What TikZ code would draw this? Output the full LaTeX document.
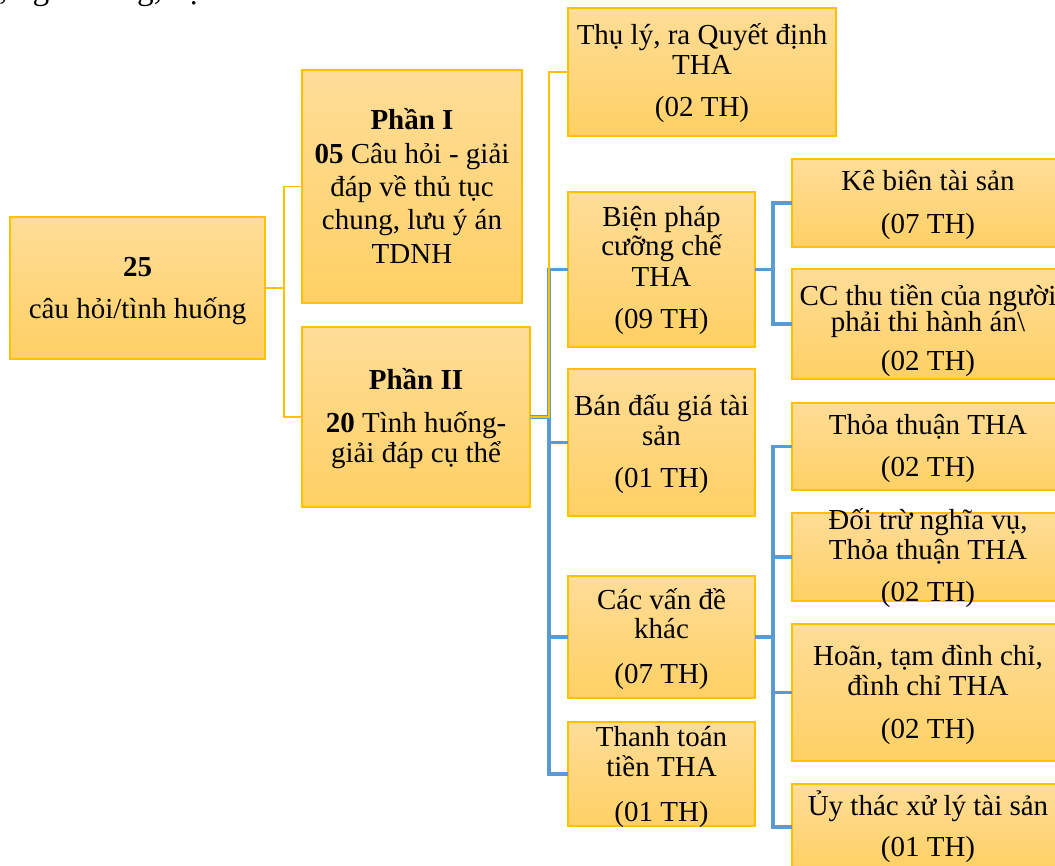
\documentclass[tikz,border=0pt]{standalone}
\usepackage{fontspec}
\setmainfont{Liberation Serif}
\usetikzlibrary{calc}

\definecolor{boxedge}{HTML}{FFC000}
\definecolor{boxtop}{HTML}{FFDD98}
\definecolor{boxbot}{HTML}{FFD064}
\definecolor{linkblue}{HTML}{5B9BD5}
\definecolor{linkgold}{HTML}{FFC000}

% box from corner (x1,y1) to corner (x2,y2), in pixel units
\newcommand\bx[5]{%
  \pgfmathsetmacro\bw{(#4-#2)*0.75}%
  \pgfmathsetmacro\bh{(#5-#3)*0.75}%
  \node[box, minimum width=\bw pt, minimum height=\bh pt] (#1) at ({(#2+#4)/2},{(#3+#5)/2}) {};}
% one line of text: name, box it belongs to, baseline y, text
\newcommand\tline[4]{%
  \node[txt] (#1) at ($(#2.center |- 0,#3)$) {#4};}

\begin{document}
\begin{tikzpicture}[x=0.75pt, y=-0.75pt,
  box/.style={rectangle, draw=boxedge, line width=1.1pt, top color=boxtop,
    bottom color=boxbot, inner sep=0pt, outer sep=0pt},
  txt/.style={anchor=base, inner sep=0pt, font=\fontsize{21.75pt}{26pt}\selectfont},
  yl/.style={draw=linkgold, line width=1pt, line join=miter},
  bl/.style={draw=linkblue, line width=2.3pt, line join=miter}]
\useasboundingbox (0,0) rectangle (1055,865);

% running text above the chart
\node[anchor=base west, inner sep=0pt, font=\fontsize{25pt}{30pt}\selectfont]
  (lead) at (-1,-1) {, ngân hàng, cụ thể};

% boxes
\bx{b0}{10}{217}{265}{359}
\bx{p1}{302}{70}{522}{303}
\bx{p2}{302}{327}{530}{507}
\bx{thuly}{568}{8}{836}{136}
\bx{bp}{568}{192}{755}{347}
\bx{bdg}{568}{369}{755}{516}
\bx{cvd}{568}{576}{755}{698}
\bx{tt}{568}{722}{755}{826}
\bx{kb}{792}{159}{1064}{247}
\bx{cc}{792}{269}{1064}{379}
\bx{ttt}{792}{403}{1064}{490}
\bx{dt}{792}{513}{1064}{601}
\bx{h}{792}{624}{1064}{761}
\bx{ut}{792}{784}{1064}{870}

% connectors from the root and from Phần II
\coordinate (j0) at ($(b0.east)+(19,0)$);
\coordinate (j1) at ($(p2.east)+(19,0)$);
\coordinate (j2) at ($(bp.east)+(18,0)$);
\coordinate (j3) at ($(cvd.east)+(18,0)$);

\draw[yl] (b0.east) -- (j0) |- (p1.west);
\draw[yl] (j0) |- (p2.west);

\draw[bl] (p2.east) -- (j1);
\draw[bl] (bp.west) -| (j1) |- (tt.west);
\draw[bl] (bdg.west) -| (j1);
\draw[bl] (cvd.west) -| (j1);
\draw[yl] (p2.east) -- (j1) |- (thuly.west);

\draw[bl] (bp.east) -- (j2);
\draw[bl] (kb.west) -| (j2) |- (cc.west);

\draw[bl] (cvd.east) -- (j3);
\draw[bl] (ttt.west) -| (j3) |- (ut.west);
\draw[bl] (dt.west) -| (j3);
\draw[bl] (h.west) -| (j3);

% texts
\tline{b0a}{b0}{276}{\textbf{25}}
\tline{b0b}{b0}{318}{câu hỏi/tình huống}

\tline{p1a}{p1}{129}{\textbf{Phần I}}
\tline{p1b}{p1}{163}{\textbf{05} Câu hỏi - giải}
\tline{p1c}{p1}{196}{đáp về thủ tục}
\tline{p1d}{p1}{229}{chung, lưu ý án}
\tline{p1e}{p1}{263}{TDNH}

\tline{p2a}{p2}{389}{\textbf{Phần II}}
\tline{p2b}{p2}{432}{\textbf{20} Tình huống-}
\tline{p2c}{p2}{462}{giải đáp cụ thể}

\tline{thuly-a}{thuly}{44}{Thụ lý, ra Quyết định}
\tline{thuly-b}{thuly}{74}{THA}
\tline{thuly-c}{thuly}{116}{(02 TH)}

\tline{bp-a}{bp}{226.5}{Biện pháp}
\tline{bp-b}{bp}{255}{cưỡng chế}
\tline{bp-c}{bp}{286}{THA}
\tline{bp-d}{bp}{328}{(09 TH)}

\tline{bdg-a}{bdg}{415}{Bán đấu giá tài}
\tline{bdg-b}{bdg}{445}{sản}
\tline{bdg-c}{bdg}{487.5}{(01 TH)}

\tline{cvd-a}{cvd}{609}{Các vấn đề}
\tline{cvd-b}{cvd}{638}{khác}
\tline{cvd-c}{cvd}{683}{(07 TH)}

\tline{tt-a}{tt}{746.5}{Thanh toán}
\tline{tt-b}{tt}{776}{tiền THA}
\tline{tt-c}{tt}{821}{(01 TH)}

\tline{kb-a}{kb}{190.5}{Kê biên tài sản}
\tline{kb-b}{kb}{233}{(07 TH)}

\tline{cc-a}{cc}{305}{CC thu tiền của người}
\tline{cc-b}{cc}{331.5}{phải thi hành án\textbackslash}
\tline{cc-c}{cc}{370}{(02 TH)}

\tline{ttt-a}{ttt}{434}{Thỏa thuận THA}
\tline{ttt-b}{ttt}{476.5}{(02 TH)}

\tline{dt-a}{dt}{529}{Đối trừ nghĩa vụ,}
\tline{dt-b}{dt}{559}{Thỏa thuận THA}
\tline{dt-c}{dt}{601.5}{(02 TH)}

\tline{h-a}{h}{665}{Hoãn, tạm đình chỉ,}
\tline{h-b}{h}{695}{đình chỉ THA}
\tline{h-c}{h}{738}{(02 TH)}

\tline{ut-a}{ut}{815}{Ủy thác xử lý tài sản}
\tline{ut-b}{ut}{856.5}{(01 TH)}
\end{tikzpicture}
\end{document}
